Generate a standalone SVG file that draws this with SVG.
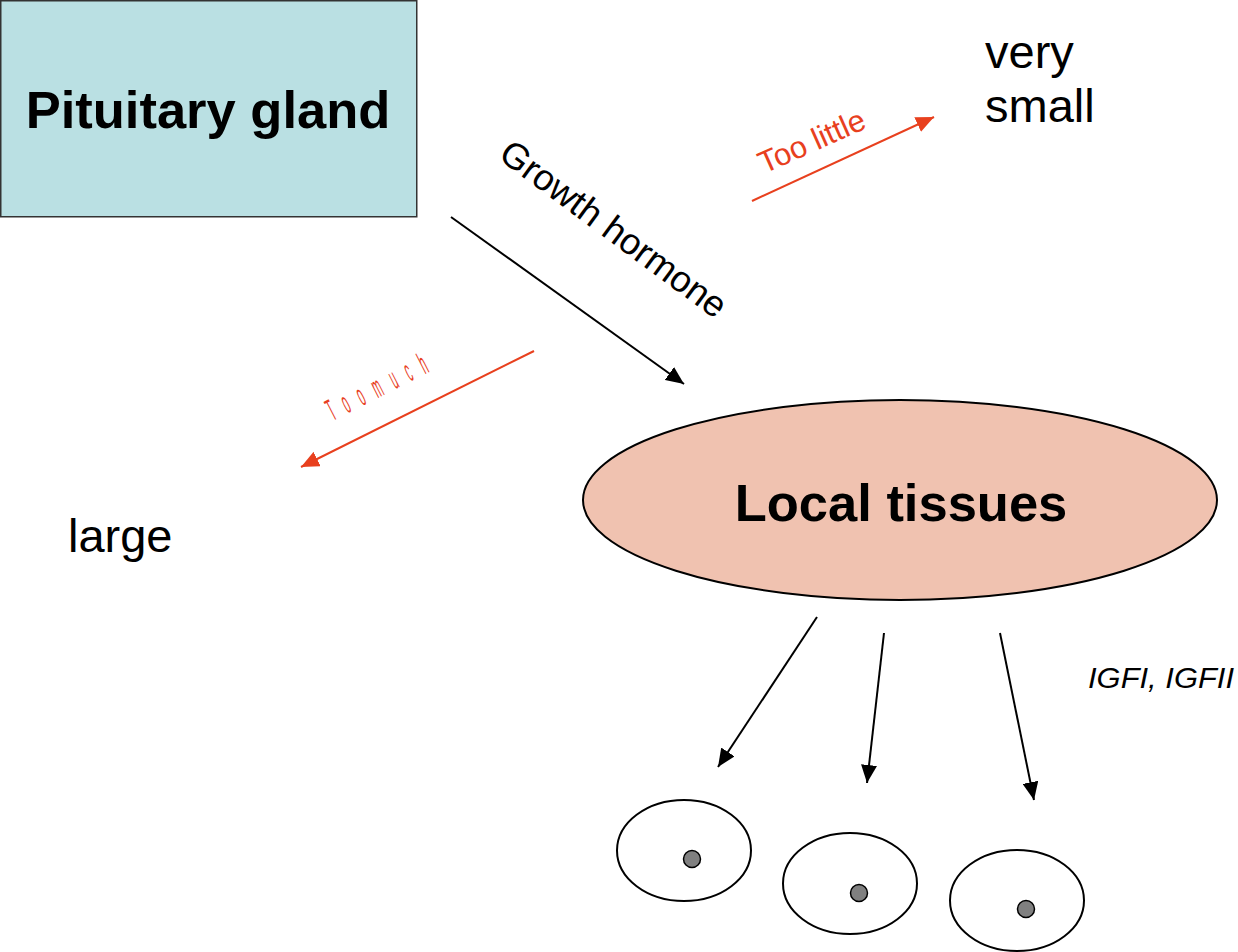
<svg xmlns="http://www.w3.org/2000/svg" width="1238" height="952" viewBox="0 0 1238 952">
<style>
.t{font-family:"Liberation Sans",Arial,sans-serif;}
.b{font-weight:bold;font-size:52.5px;fill:#000;}
.lbl{font-size:47px;fill:#000;}
.red{fill:#e8401e;}
.ln{stroke:#000;stroke-width:2;fill:none;}
.rl{stroke:#e8401e;stroke-width:2;fill:none;}
.cell{fill:#fff;stroke:#000;stroke-width:2;}
.nuc{fill:#808080;stroke:#000;stroke-width:1.5;}
</style>
<defs>
<marker id="ar" viewBox="0 0 10 10" refX="10" refY="5" markerWidth="18" markerHeight="16" markerUnits="userSpaceOnUse" orient="auto" preserveAspectRatio="none">
<path d="M0,0 L10,5 L0,10 z" fill="#e8401e"/>
</marker>
<marker id="abk" viewBox="0 0 10 10" refX="10" refY="5" markerWidth="18" markerHeight="16" markerUnits="userSpaceOnUse" orient="auto" preserveAspectRatio="none">
<path d="M0,0 L10,5 L0,10 z" fill="#000"/>
</marker>
</defs>
<g id="pituitary">
<rect x="0.75" y="0.75" width="416" height="216" fill="#bae0e3" stroke="#333" stroke-width="1.5"/>
<text class="t b" x="208" y="128" text-anchor="middle">Pituitary gland</text>
</g>
<g id="local-tissues">
<ellipse cx="900" cy="500" rx="317" ry="100" fill="#f0c2b0" stroke="#000" stroke-width="2"/>
<text class="t b" x="901" y="521" text-anchor="middle">Local tissues</text>
</g>
<g id="very-small">
<text class="t lbl" x="985" y="68">very</text>
<text class="t lbl" x="985" y="122">small</text>
</g>
<g id="large">
<text class="t lbl" x="68" y="552" font-size="47.5">large</text>
</g>
<g id="cell1">
<ellipse class="cell" cx="684" cy="850.5" rx="67" ry="50.5"/>
<circle class="nuc" cx="692" cy="859" r="8.5"/>
</g>
<g id="cell2">
<ellipse class="cell" cx="850" cy="883.5" rx="67" ry="50.5"/>
<circle class="nuc" cx="859" cy="893" r="8.5"/>
</g>
<g id="cell3">
<ellipse class="cell" cx="1017" cy="900.5" rx="67" ry="50.5"/>
<circle class="nuc" cx="1026" cy="909" r="8.5"/>
</g>
<g id="connectors">
<line class="ln" x1="451" y1="217" x2="684" y2="384" marker-end="url(#abk)"/>
<line class="rl" x1="752" y1="201" x2="934" y2="117" marker-end="url(#ar)"/>
<line class="rl" x1="534" y1="351" x2="301" y2="467" marker-end="url(#ar)"/>
<line class="ln" x1="817" y1="617" x2="718" y2="767" marker-end="url(#abk)"/>
<line class="ln" x1="884" y1="633" x2="867" y2="783" marker-end="url(#abk)"/>
<line class="ln" x1="1000" y1="633" x2="1034" y2="800" marker-end="url(#abk)"/>
</g>
<g id="labels">
<text class="t" font-size="36.5" fill="#000" transform="translate(497,158) rotate(36.5)">Growth hormone</text>
<text class="t red" font-size="31" transform="translate(764,174) rotate(-24)">Too little</text>
<text class="t red" font-size="31" letter-spacing="34" transform="translate(333,421) rotate(-27) scale(0.33,1)">Toomuch</text>
<text class="t" font-size="30" font-style="italic" fill="#000" x="1088" y="688" textLength="146" lengthAdjust="spacingAndGlyphs">IGFI, IGFII</text>
</g>
</svg>
